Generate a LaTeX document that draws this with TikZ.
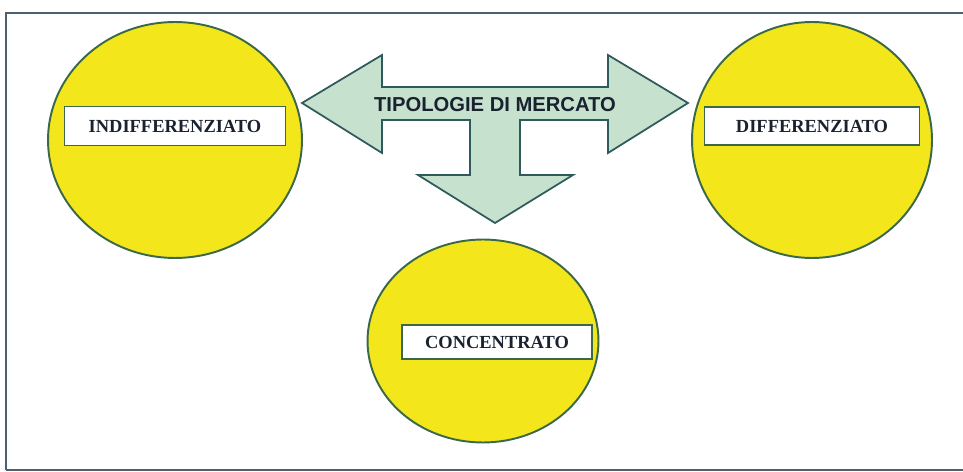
\documentclass[tikz,border=0pt]{standalone}
\usepackage{fontspec}
\setmainfont{Liberation Serif}
\newfontfamily\tmsans{Liberation Sans}
\usepackage{tikz}
\usetikzlibrary{shapes.geometric}
\definecolor{tmframe}  {HTML}{4C6072}
\definecolor{tmyellow} {HTML}{F3E61A}
\definecolor{tmgreen}  {HTML}{3B6848}
\definecolor{tmmint}   {HTML}{C6E2CF}
\definecolor{tmteal}   {HTML}{2E5A5C}
\definecolor{tmink}    {HTML}{1A2230}
\tikzset{
  tmborder/.style={draw=tmframe, line width=1pt},
  tmdisc/.style={ellipse, draw=tmgreen, fill=tmyellow, line width=1.1pt, inner sep=0pt},
  tmbox/.style={draw=tmgreen, fill=white, line width=1pt, inner sep=0pt,
                font=\bfseries\fontsize{10.5}{12}\selectfont, text=tmink},
  tmarrow/.style={draw=tmteal, fill=tmmint, line width=1pt, line join=miter},
  tmtitle/.style={font=\tmsans\bfseries\fontsize{11.5}{13}\selectfont, text=tmink},
}

\begin{document}
\begin{tikzpicture}[x=0.02cm,y=-0.02cm]
  \useasboundingbox (0,0) rectangle (963,472);
  \draw[tmborder] (6,470) -- (6,13) -- (966,13);
  \draw[tmborder] (6,470) -- (966,470);
  % the three market types
  \node[tmdisc, minimum width=5.08cm, minimum height=4.72cm] (indiff) at (175,140) {};
  \node[tmdisc, minimum width=4.8cm,  minimum height=4.72cm] (diff)   at (812,140) {};
  \node[tmdisc, minimum width=4.62cm, minimum height=4.06cm] (conc)   at (483,341) {};
  \node[tmbox, minimum width=4.42cm, minimum height=0.78cm] (indiffbox) at (175,126) {INDIFFERENZIATO};
  \node[tmbox, minimum width=4.3cm,  minimum height=0.76cm] (diffbox)   at (812,126) {DIFFERENZIATO};
  \node[tmbox, minimum width=3.8cm,  minimum height=0.68cm] (concbox)   at (497,342) {CONCENTRATO};
  % three-way arrow
  \draw[tmarrow] (302,103) -- (382,55) -- (382,87) -- (608,87) -- (608,55) -- (688,103)
    -- (608,153) -- (608,120) -- (520,120) -- (520,175) -- (573,175) -- (495,223)
    -- (418,175) -- (470,175) -- (470,120) -- (382,120) -- (382,153) -- cycle;
  \node[tmtitle] (title) at (495,105) {TIPOLOGIE DI MERCATO};
\end{tikzpicture}
\end{document}
